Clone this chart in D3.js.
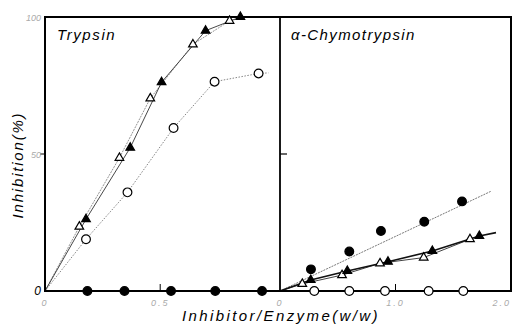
<!DOCTYPE html>
<html>
<head>
<meta charset="utf-8">
<script src="https://cdn.jsdelivr.net/npm/d3@7"></script>
<style>
  body { margin: 0; background: #fff; }
  svg text { font-family: "Liberation Sans", "DejaVu Sans", sans-serif; font-style: italic; }
</style>
</head>
<body>
<div id="chart"></div>
<script>
// Trypsin panel (first point = origin, last point of some lines = line tail without marker)
const tOpenTri  = [[0, 0], [0.149, 23.5], [0.323, 48.6], [0.457, 70.3], [0.642, 90.0], [0.801, 98.6], [0.87, 100]];
const tFillTri  = [[0, 0], [0.178, 26.2], [0.370, 52.3], [0.506, 76.2], [0.697, 95.0], [0.848, 100]];
const tOpenCirc = [[0, 0], [0.178, 18.9], [0.358, 36.0], [0.558, 59.5], [0.736, 76.4], [0.927, 79.4], [0.97, 79.6]];
const tFillCirc = [[0.184, 0], [0.345, 0], [0.547, 0], [0.739, 0], [0.942, 0]];

// alpha-chymotrypsin panel
const cFillCirc = [[0.268, 7.9], [0.600, 14.4], [0.874, 21.9], [1.249, 25.3], [1.576, 32.7]];
const cFillCircFit = [[0, 0], [1.827, 36.4]];
const cOpenTri  = [[0, 0], [0.193, 2.6], [0.537, 5.8], [0.866, 10.1], [1.244, 12.2], [1.645, 18.9]];
const cFillTri  = [[0, 0], [0.266, 4.0], [0.583, 7.3], [0.935, 10.7], [1.319, 14.6], [1.726, 20.1], [1.870, 21.3]];
const cOpenCirc = [[0.297, 0], [0.600, 0], [0.909, 0], [1.287, 0], [1.587, 0]];

const yTicks = [0, 50, 100];
const yTickLabels = ["0", "50", "100"];

const svg = d3.select('#chart').append('svg')
    .attr('width', 515).attr('height', 325);

const pLeft = 45, pMid = 280, pRight = 511, pTop = 17, pBottom = 291;

const x1 = d3.scaleLinear().domain([0, 1.02]).range([pLeft, pMid]),
    x2 = d3.scaleLinear().domain([0, 2.0]).range([pMid, pRight]),
    y = d3.scaleLinear().domain([0, 100]).range([pBottom, pTop]);

const line = (xs) => d3.line().x(d => xs(d[0])).y(d => y(d[1]));

function drawLine(xs, data, width, color, dash) {
    svg.append('path')
        .datum(data)
        .attr('d', line(xs))
        .attr('fill', 'none')
        .attr('stroke', color)
        .attr('stroke-width', width)
        .attr('stroke-dasharray', dash || null);
}

function drawMarks(xs, data, type, filled, size) {
    svg.selectAll(null)
        .data(data)
        .enter().append('path')
        .attr('transform', d => `translate(${xs(d[0])},${y(d[1])})`)
        .attr('d', d3.symbol().type(type).size(size))
        .attr('fill', filled ? '#000' : '#fff')
        .attr('stroke', '#000')
        .attr('stroke-width', 1.2);
}

// lines
drawLine(x1, tOpenTri, 0.8, '#777', '2,1');
drawLine(x1, tFillTri, 0.9, '#333');
drawLine(x1, tOpenCirc, 0.8, '#666', '1.5,1.5');
drawLine(x2, cFillCircFit, 0.8, '#555', '2,1');
drawLine(x2, cOpenTri, 1.0, '#444');
drawLine(x2, cFillTri, 1.6, '#111');

// frame
svg.append('rect')
    .attr('x', pLeft).attr('y', pTop)
    .attr('width', pRight - pLeft).attr('height', pBottom - pTop)
    .attr('fill', 'none').attr('stroke', '#000').attr('stroke-width', 2);
svg.append('line')
    .attr('x1', pMid).attr('x2', pMid).attr('y1', pTop).attr('y2', pBottom)
    .attr('stroke', '#000').attr('stroke-width', 1.8);

// ticks
svg.append('line').attr('x1', pLeft - 5).attr('x2', pLeft).attr('y1', y(50)).attr('y2', y(50))
    .attr('stroke', '#000').attr('stroke-width', 1);
svg.append('line').attr('x1', pMid).attr('x2', pMid + 7).attr('y1', y(50)).attr('y2', y(50))
    .attr('stroke', '#000').attr('stroke-width', 1.2);
svg.append('line').attr('x1', x1(0.5)).attr('x2', x1(0.5)).attr('y1', pBottom - 7).attr('y2', pBottom)
    .attr('stroke', '#000').attr('stroke-width', 1);
svg.append('line').attr('x1', x2(1.0)).attr('x2', x2(1.0)).attr('y1', pBottom - 7).attr('y2', pBottom)
    .attr('stroke', '#000').attr('stroke-width', 1);

// marks
drawMarks(x1, tOpenTri.slice(1, -1), d3.symbolTriangle, false, 32);
drawMarks(x1, tFillTri.slice(1), d3.symbolTriangle, true, 32);
drawMarks(x1, tOpenCirc.slice(1, -1), d3.symbolCircle, false, 60);
drawMarks(x1, tFillCirc, d3.symbolCircle, true, 60);
drawMarks(x2, cFillCirc, d3.symbolCircle, true, 60);
drawMarks(x2, cOpenTri.slice(1), d3.symbolTriangle, false, 32);
drawMarks(x2, cFillTri.slice(1, -1), d3.symbolTriangle, true, 32);
drawMarks(x2, cOpenCirc, d3.symbolCircle, false, 60);

// tick labels
svg.selectAll(null).data(yTicks).enter().append('text')
    .attr('x', pLeft - 4).attr('y', d => y(d) + 4)
    .attr('text-anchor', 'end')
    .attr('font-size', d => d === 0 ? 12 : 9)
    .attr('fill', d => d === 0 ? '#000' : '#aaa')
    .text((d, i) => yTickLabels[i]);

const xLabels = [[x1, 0, "0"], [x1, 0.5, "0.5"], [x2, 0, "0"], [x2, 1.0, "1.0"], [x2, 2.0, "2.0"]];
svg.selectAll(null).data(xLabels).enter().append('text')
    .attr('x', d => d[0](d[1]))
    .attr('y', 306)
    .attr('text-anchor', d => d[1] === 2.0 ? 'end' : 'middle')
    .attr('font-size', 9)
    .attr('letter-spacing', 2)
    .attr('fill', '#aaa')
    .text(d => d[2]);

// titles
svg.append('text').attr('x', 57).attr('y', 40).attr('font-size', 15).attr('letter-spacing', 1.6)
    .text('Trypsin');
svg.append('text').attr('x', 291).attr('y', 40).attr('font-size', 15).attr('letter-spacing', 1.4)
    .text('α-Chymotrypsin');

svg.append('text').attr('x', 281).attr('y', 321).attr('text-anchor', 'middle')
    .attr('font-size', 15).attr('letter-spacing', 2.4)
    .text('Inhibitor/Enzyme(w/w)');
svg.append('text')
    .attr('transform', 'translate(23,165) rotate(-90)')
    .attr('text-anchor', 'middle')
    .attr('font-size', 15).attr('letter-spacing', 1.8)
    .text('Inhibition(%)');
</script>
</body>
</html>
